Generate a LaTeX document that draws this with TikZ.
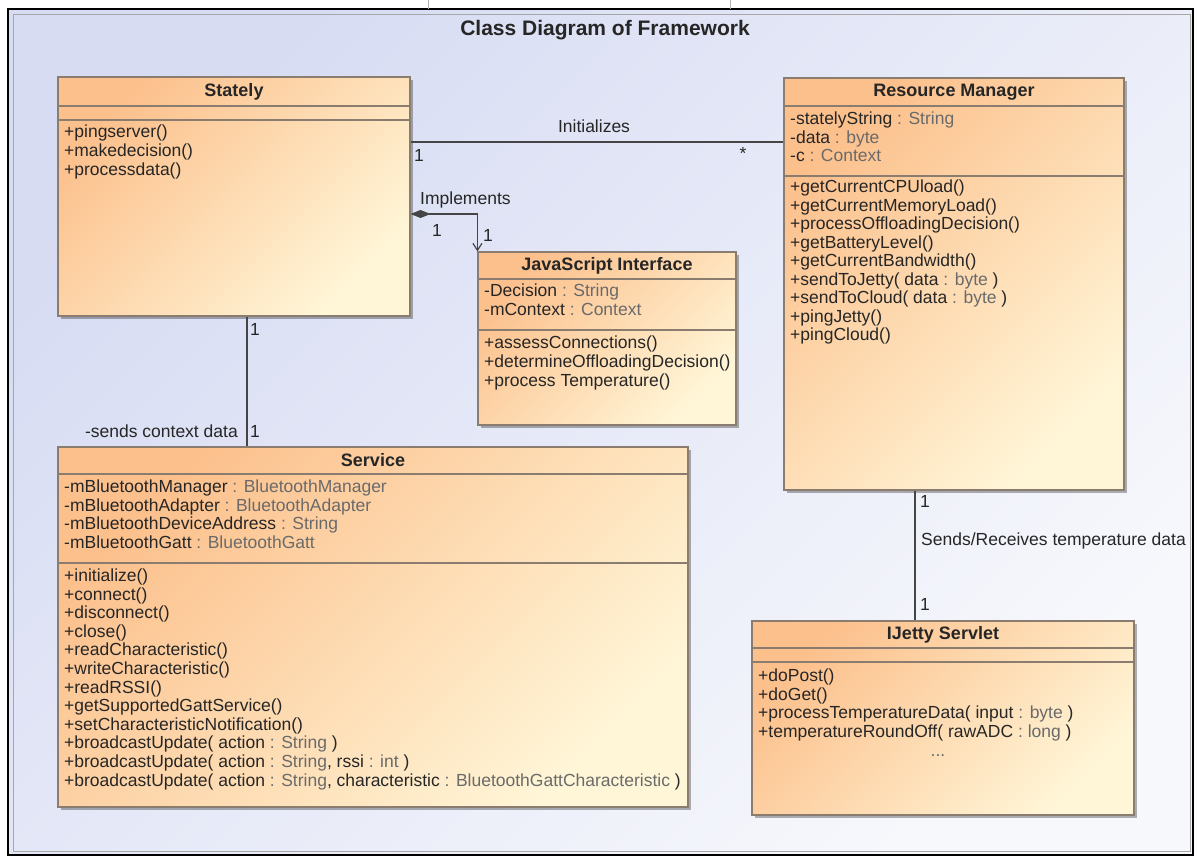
\documentclass[tikz,border=0pt]{standalone}
\usepackage{fontspec}
\setmainfont{Liberation Sans}
\usetikzlibrary{arrows.meta,shadows}
\definecolor{boxA}{HTML}{FCC08C}
\definecolor{boxB}{HTML}{FFF6D8}
\definecolor{boxline}{HTML}{8A7D70}
\definecolor{bgA}{HTML}{D7DCF3}
\definecolor{bgB}{HTML}{F7F8FC}
\definecolor{conncol}{HTML}{454545}
\definecolor{txt}{HTML}{262626}
\definecolor{typegray}{HTML}{6A6A6A}
\newcommand\tp[1]{\textcolor{typegray}{#1}}
\tikzset{
  classbox/.style={draw=boxline, line width=1.1pt, top color=boxA, bottom color=boxB, shading angle=45,
    drop shadow={shadow xshift=3pt, shadow yshift=-3pt, fill=black, opacity=0.3},
    inner sep=0pt, rectangle},
  divider/.style={draw=boxline, line width=1.1pt},
  cname/.style={font=\fontsize{18}{21}\selectfont\bfseries, text=txt, inner sep=0pt},
  member/.style={font=\fontsize{17.5}{20}\selectfont, text=txt, inner sep=0pt, anchor=west, text height=12.5pt, text depth=3.5pt},
  lbl/.style={font=\fontsize{17.5}{20}\selectfont, text=txt, inner sep=0pt, text height=12.5pt, text depth=3.5pt},
  conn/.style={draw=conncol, line width=1.2pt},
}
\begin{document}
\begin{tikzpicture}[x=1pt,y=-1pt]
\useasboundingbox (0,0) rectangle (1198,857);
\fill[white] (0,0) rectangle (1198,857);
% frame
\shade[top color=bgA, bottom color=bgB, shading angle=45] (8,9) rectangle (1193,855);
\draw[gray!70, line width=1pt] (13,14) rectangle (1190,851);
\draw[black, line width=2.5pt] (8,9) rectangle (1193,855);
\draw[gray!60, line width=0.8pt] (428,0) -- (428,9);
\draw[gray!60, line width=0.8pt] (730,0) -- (730,9);
\node[font=\fontsize{21}{24}\selectfont\bfseries, text=txt, inner sep=0pt] (title) at (605,30) {Class Diagram of Framework};

% ---------- Stately
\node[classbox, minimum width=352pt, minimum height=239pt] (st) at (234,196.5) {};
\draw[divider] (st.west |- 0,106) -- (st.east |- 0,106);
\draw[divider] (st.west |- 0,120) -- (st.east |- 0,120);
\node[cname] (st-name) at (234,91.5) {Stately};
\foreach \t [count=\i] in {{+pingserver()},{+makedecision()},{+processdata()}}
  \node[member] (st-m\i) at (64,{133+(\i-1)*19}) {\t};

% ---------- Resource Manager
\node[classbox, minimum width=340pt, minimum height=412pt] (rm) at (954,284) {};
\draw[divider] (rm.west |- 0,106) -- (rm.east |- 0,106);
\draw[divider] (rm.west |- 0,176) -- (rm.east |- 0,176);
\node[cname] (rm-name) at (954,92) {Resource Manager};
\foreach \t [count=\i] in {{-statelyString \tp{: String}},{-data \tp{: byte}},{-c \tp{: Context}}}
  \node[member] (rm-a\i) at (790,{120+(\i-1)*18.5}) {\t};
\foreach \t [count=\i] in {{+getCurrentCPUload()},{+getCurrentMemoryLoad()},{+processOffloadingDecision()},{+getBatteryLevel()},{+getCurrentBandwidth()},{+sendToJetty( data \tp{: byte} )},{+sendToCloud( data \tp{: byte} )},{+pingJetty()},{+pingCloud()}}
  \node[member] (rm-m\i) at (790,{188+(\i-1)*18.5}) {\t};

% ---------- JavaScript Interface
\node[classbox, minimum width=258pt, minimum height=173pt] (js) at (607,338.5) {};
\draw[divider] (js.west |- 0,279) -- (js.east |- 0,279);
\draw[divider] (js.west |- 0,330) -- (js.east |- 0,330);
\node[cname] (js-name) at (607,265.5) {JavaScript Interface};
\foreach \t [count=\i] in {{-Decision \tp{: String}},{-mContext \tp{: Context}}}
  \node[member] (js-a\i) at (484,{292+(\i-1)*19}) {\t};
\foreach \t [count=\i] in {{+assessConnections()},{+determineOffloadingDecision()},{+process Temperature()}}
  \node[member] (js-m\i) at (484,{344+(\i-1)*19}) {\t};

% ---------- Service
\node[classbox, minimum width=630pt, minimum height=360pt] (svc) at (373,627) {};
\draw[divider] (svc.west |- 0,474) -- (svc.east |- 0,474);
\draw[divider] (svc.west |- 0,563) -- (svc.east |- 0,563);
\node[cname] (svc-name) at (373,460.5) {Service};
\foreach \t [count=\i] in {{-mBluetoothManager \tp{: BluetoothManager}},{-mBluetoothAdapter \tp{: BluetoothAdapter}},{-mBluetoothDeviceAddress \tp{: String}},{-mBluetoothGatt \tp{: BluetoothGatt}}}
  \node[member] (svc-a\i) at (64,{488+(\i-1)*18.6}) {\t};
\foreach \t [count=\i] in {{+initialize()},{+connect()},{+disconnect()},{+close()},{+readCharacteristic()},{+writeCharacteristic()},{+readRSSI()},{+getSupportedGattService()},{+setCharacteristicNotification()},{+broadcastUpdate( action \tp{: String} )},{+broadcastUpdate( action \tp{: String}, rssi \tp{: int} )},{+broadcastUpdate( action \tp{: String}, characteristic \tp{: BluetoothGattCharacteristic} )}}
  \node[member] (svc-m\i) at (64,{577+(\i-1)*18.6}) {\t};

% ---------- IJetty Servlet
\node[classbox, minimum width=382pt, minimum height=194pt] (ij) at (943,718) {};
\draw[divider] (ij.west |- 0,648) -- (ij.east |- 0,648);
\draw[divider] (ij.west |- 0,662) -- (ij.east |- 0,662);
\node[cname] (ij-name) at (943,634.5) {IJetty Servlet};
\foreach \t [count=\i] in {{+doPost()},{+doGet()},{+processTemperatureData( input \tp{: byte} )},{+temperatureRoundOff( rawADC \tp{: long} )}}
  \node[member] (ij-m\i) at (758,{677+(\i-1)*18.6}) {\t};
\node[lbl, text=typegray] (ij-dots) at (938,752) {...};

% ---------- connectors
\draw[conn] (st.east |- 0,142) -- (rm.west |- 0,142);
\node[lbl] (l-init) at (594,128) {Initializes};
\node[lbl, anchor=west] (l-init1) at (414,157) {1};
\node[lbl] (l-inits) at (743,155) {*};

\draw[conn, {Diamond[length=20pt,width=8pt,fill=conncol]}-{Straight Barb[length=7pt,width=9pt]}] (st.east |- 0,214) -| (js.north west);
\node[lbl, anchor=west] (l-impl) at (420,200) {Implements};
\node[lbl] (l-impl1) at (437,232) {1};
\node[lbl] (l-impl2) at (488,237) {1};

\draw[conn] (247,0 |- st.south) -- (247,0 |- svc.north);
\node[lbl] (l-sv1) at (255,331) {1};
\node[lbl] (l-sv2) at (255,433) {1};
\node[lbl, anchor=east] (l-send) at (238,433) {-sends context data};

\draw[conn] (915,0 |- rm.south) -- (915,0 |- ij.north);
\node[lbl] (l-rj1) at (925,503) {1};
\node[lbl, anchor=west] (l-rj) at (921,541) {Sends/Receives temperature data};
\node[lbl] (l-rj2) at (925,606) {1};
\end{tikzpicture}
\end{document}
